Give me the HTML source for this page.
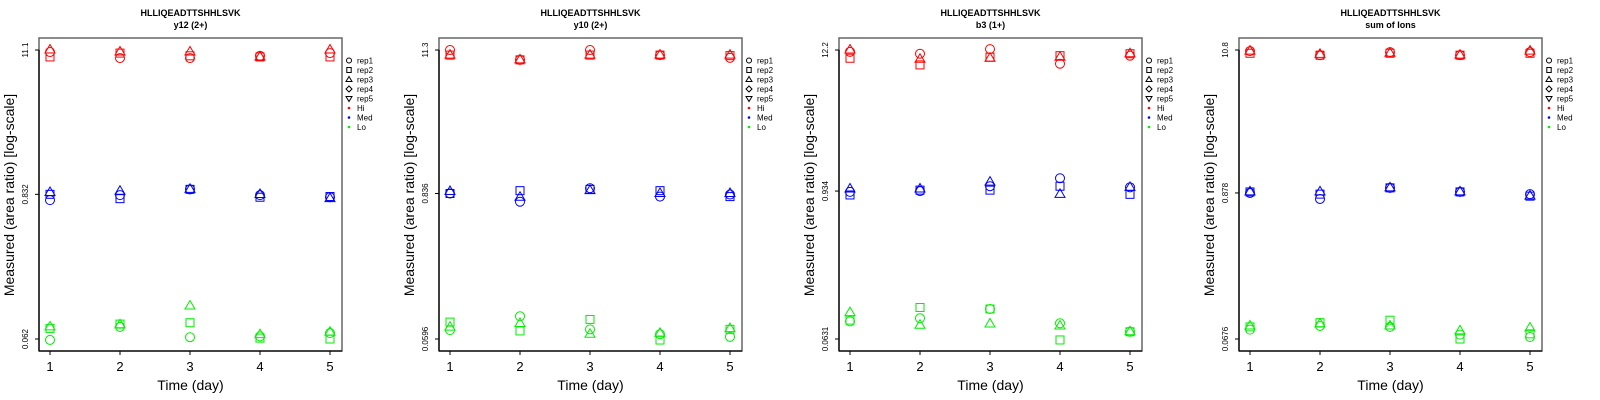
<!DOCTYPE html>
<html><head><meta charset="utf-8">
<style>
html,body{margin:0;padding:0;background:#fff;}
svg{display:block;font-family:"Liberation Sans",sans-serif;}
</style></head>
<body>
<svg id="chart" width="1600" height="400" viewBox="0 0 1600 400" xmlns="http://www.w3.org/2000/svg"></svg>
<script>
const days = [1, 2, 3, 4, 5];
const groups = ["Hi", "Med", "Lo"];
const reps = ["rep1", "rep2", "rep3"];
const panelTitles = ["y12 (2+)", "y10 (2+)", "b3 (1+)", "sum of Ions"];
const peptide = "HLLIQEADTTSHHLSVK";
const tickLabels = [["11.1","0.832","0.062"],["11.3","0.836","0.0596"],["12.2","0.934","0.0631"],["10.8","0.878","0.0676"]];
const tickValues = [[11.1,0.832,0.062],[11.3,0.836,0.0596],[12.2,0.934,0.0631],[10.8,0.878,0.0676]];
// values[panel][group][rep][day]
const p1Hi  = [[10.7,9.6,9.6,10.0,10.5],[9.8,10.5,10.0,9.8,9.8],[11.1,10.7,10.7,9.8,11.1]];
const p1Med = [[0.75,0.82,0.91,0.82,0.79],[0.832,0.77,0.91,0.79,0.80],[0.86,0.88,0.91,0.83,0.77]];
const p1Lo  = [[0.061,0.077,0.064,0.065,0.069],[0.075,0.081,0.083,0.063,0.062],[0.077,0.080,0.112,0.067,0.070]];
const p2Hi  = [[11.3,9.45,11.3,10.3,9.8],[10.3,9.45,10.3,10.3,10.2],[10.3,9.45,10.3,10.3,10.3]];
const p2Med = [[0.836,0.72,0.92,0.79,0.82],[0.836,0.88,0.90,0.88,0.79],[0.866,0.78,0.88,0.836,0.836]];
const p2Lo  = [[0.070,0.090,0.071,0.065,0.062],[0.081,0.069,0.085,0.0585,0.071],[0.074,0.079,0.065,0.066,0.072]];
const p3Hi  = [[11.8,11.4,12.4,9.5,11.0],[10.5,9.3,10.7,11.0,11.4],[12.2,10.3,10.5,10.7,11.4]];
const p3Med = [[0.92,0.934,1.02,1.18,1.0],[0.87,0.95,0.95,1.02,0.88],[0.97,0.97,1.1,0.88,1.0]];
const p3Lo  = [[0.087,0.092,0.109,0.084,0.072],[0.089,0.112,0.109,0.062,0.072],[0.102,0.081,0.083,0.080,0.072]];
const p4Hi  = [[10.6,9.86,10.4,9.86,10.4],[10.2,9.86,10.2,9.86,10.2],[10.6,10.0,10.2,9.86,10.6]];
const p4Med = [[0.878,0.79,0.96,0.894,0.86],[0.894,0.86,0.96,0.894,0.83],[0.894,0.894,0.96,0.894,0.83]];
const p4Lo  = [[0.0797,0.085,0.0836,0.073,0.070],[0.0836,0.090,0.094,0.0676,0.074],[0.085,0.088,0.085,0.078,0.082]];
const values = [[p1Hi,p1Med,p1Lo],[p2Hi,p2Med,p2Lo],[p3Hi,p3Med,p3Lo],[p4Hi,p4Med,p4Lo]];
const colors = {Hi:"#ff0000", Med:"#0000ff", Lo:"#00ee00"};
const legendLabels = ["rep1","rep2","rep3","rep4","rep5","Hi","Med","Lo"];

const NS = "http://www.w3.org/2000/svg";
const svg = document.getElementById("chart");
function mk(tag, attrs, parent, text){
  const e = document.createElementNS(NS, tag);
  for (const k in attrs) e.setAttribute(k, attrs[k]);
  if (text !== undefined) e.textContent = text;
  parent.appendChild(e);
  return e;
}
const BX0 = 39, BX1 = 342, BY0 = 38, BY1 = 351;
const TOPY = 50, BOTY = 339;
const XL = 50, XR = 330;

function marker(g, shape, x, y, c){
  let e;
  if (shape === 0) e = mk("circle", {cx:x, cy:y, r:4.5, fill:"none", stroke:c, "stroke-width":1}, g);
  else if (shape === 1) e = mk("rect", {x:x-4, y:y-4, width:8, height:8, fill:"none", stroke:c, "stroke-width":1}, g);
  else e = mk("polygon", {points:`${x},${y-5.5} ${x+5},${y+3} ${x-5},${y+3}`, fill:"none", stroke:c, "stroke-width":1}, g);
  return e;
}

for (let p = 0; p < 4; p++) {
  const ox = p * 400;
  const pg = mk("g", {transform:`translate(${ox},0)`}, svg);
  
  
  const lo = Math.log(tickValues[p][2]), hi = Math.log(tickValues[p][0]);
  const yS = v => BOTY - (Math.log(v) - lo) / (hi - lo) * (BOTY - TOPY);
  const xS = d => XL + (d - 1) / 4 * (XR - XL);

  const t1 = mk("text", {x:190.5, y:16, "text-anchor":"middle", "font-size":9, "font-weight":"bold"}, pg, peptide);
  
  
  const t2 = mk("text", {x:190.5, y:28, "text-anchor":"middle", "font-size":9, "font-weight":"bold"}, pg, panelTitles[p]);
  
  

  const box = mk("rect", {x:BX0, y:BY0, width:BX1-BX0, height:BY1-BY0, fill:"none", stroke:"#666", "stroke-width":1.5}, pg);
  
  
  const ya = mk("line", {x1:BX0, y1:TOPY, x2:BX0, y2:BY1, stroke:"#000", "stroke-width":1.3}, pg);
  
  
  const xa = mk("line", {x1:BX0, y1:BY1, x2:BX1, y2:BY1, stroke:"#000", "stroke-width":1.3}, pg);
  
  

  for (let i = 0; i < 3; i++) {
    const y = yS(tickValues[p][i]);
    const tk = mk("line", {x1:BX0-4, y1:y, x2:BX0, y2:y, stroke:"#000"}, pg);
    
    
    const tl = mk("text", {x:0, y:0, transform:`translate(28,${y}) rotate(-90)`, "text-anchor":"middle", "font-size":8}, pg, tickLabels[p][i]);
    
    
  }
  days.forEach(d => {
    const x = xS(d);
    const tk = mk("line", {x1:x, y1:BY1, x2:x, y2:BY1+4, stroke:"#000"}, pg);
    
    
    const tl = mk("text", {x:x, y:371, "text-anchor":"middle", "font-size":13}, pg, String(d));
    
    
  });
  const xt = mk("text", {x:190.5, y:390, "text-anchor":"middle", "font-size":14}, pg, "Time (day)");
  
  
  const yt = mk("text", {x:0, y:0, transform:"translate(14,195) rotate(-90)", "text-anchor":"middle", "font-size":14}, pg, "Measured (area ratio) [log-scale]");
  
  

  groups.forEach((gname, gi) => {
    reps.forEach((rname, ri) => {
      days.forEach((d, di) => {
        const m = marker(pg, ri, xS(d), yS(values[p][gi][ri][di]), colors[gname]);
        
        
      });
    });
  });

  const lg = mk("g", {}, pg);
  
  
  legendLabels.forEach((lab, i) => {
    const y = 60.5 + i * 9.5;
    const sx = 349;
    let s;
    const sc = "#000";
    if (i === 0) s = mk("circle", {cx:sx, cy:y, r:2.5, fill:"none", stroke:sc}, lg);
    else if (i === 1) s = mk("rect", {x:sx-2.2, y:y-2.5, width:4.4, height:5, fill:"none", stroke:sc}, lg);
    else if (i === 2) s = mk("polygon", {points:`${sx},${y-3} ${sx+3},${y+2} ${sx-3},${y+2}`, fill:"none", stroke:sc}, lg);
    else if (i === 3) s = mk("polygon", {points:`${sx},${y-3} ${sx+3},${y} ${sx},${y+3} ${sx-3},${y}`, fill:"none", stroke:sc}, lg);
    else if (i === 4) s = mk("polygon", {points:`${sx-3},${y-2} ${sx+3},${y-2} ${sx},${y+3}`, fill:"none", stroke:sc}, lg);
    else s = mk("circle", {cx:sx, cy:y, r:1.3, fill:colors[lab]}, lg);
    
    
    const t = mk("text", {x:357, y:y+3, "font-size":8}, lg, lab);
    
    
  });
}
</script>
</body></html>
